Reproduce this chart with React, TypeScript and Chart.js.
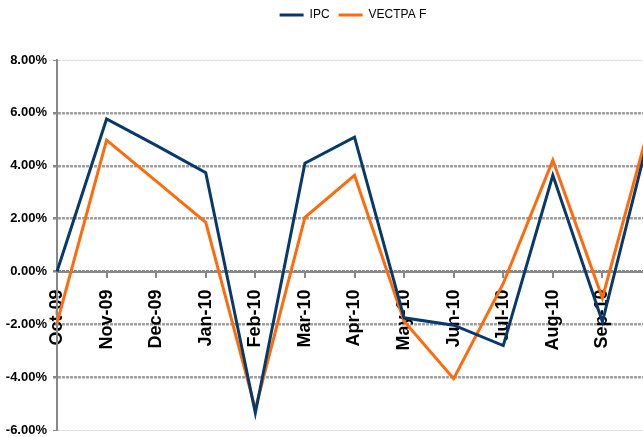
import React, { useEffect, useRef } from "react";
import { Chart, registerables } from "chart.js";

Chart.register(...registerables);

const categories = ["Oct-09", "Nov-09", "Dec-09", "Jan-10", "Feb-10", "Mar-10", "Apr-10", "May-10", "Jun-10", "Jul-10", "Aug-10", "Sep-10", "Oct-10"];
const ipcValues = [0.0, 5.77, 4.77, 3.74, -5.35, 4.1, 5.08, -1.75, -2.03, -2.8, 3.64, -1.9, 5.6];
const vectpaValues = [-1.95, 4.97, 3.42, 1.86, -5.2, 2.05, 3.64, -1.88, -4.05, -0.45, 4.21, -1.0, 5.9];
const yMin = -6;
const yMax = 8;
const yStep = 2;

const SANS = "'Liberation Sans', Arial, sans-serif";

const legendHeightPlugin = {
  id: "legendHeight",
  beforeInit(chart: any) {
    const legend = chart.legend;
    if (!legend) return;
    const origFit = legend.fit;
    legend.fit = function () {
      origFit.call(this);
      this.height = 60;
    };
  },
  beforeDraw(chart: any) {
    const legend = chart.legend;
    if (!legend || legend._shifted) return;
    legend.left += 27;
    legend.right += 27;
    legend._shifted = true;
  },
};

export default function App() {
  const ref = useRef<HTMLCanvasElement | null>(null);
  useEffect(() => {
    if (!ref.current) return;
    const chart = new Chart(ref.current, {
      type: "line",
      data: {
        labels: categories,
        datasets: [
          {
            label: "IPC",
            data: ipcValues,
            borderColor: "#063a6c",
            backgroundColor: "#063a6c",
            borderWidth: 3,
            pointRadius: 0,
            tension: 0,
          },
          {
            label: "VECTPA F",
            data: vectpaValues,
            borderColor: "#ff6a0a",
            backgroundColor: "#ff6a0a",
            borderWidth: 3,
            pointRadius: 0,
            tension: 0,
          },
        ],
      },
      options: {
        responsive: false,
        animation: false,
        layout: { padding: { left: 0, right: 48, top: 0, bottom: 0 } },
        plugins: {
          legend: {
            position: "top",
            labels: {
              usePointStyle: true,
              pointStyle: "line",
              pointStyleWidth: 24,
              padding: 9,
              color: "#000",
              font: { family: SANS, size: 12 },
            },
          },
          tooltip: { enabled: false },
        },
        scales: {
          x: {
            type: "category",
            position: { y: 0 },
            offset: false,
            grid: {
              drawOnChartArea: false,
              drawTicks: true,
              tickLength: 5,
              color: "#888",
              lineWidth: 2,
            },
            border: { display: true, color: "#888", width: 2 },
            ticks: {
              autoSkip: false,
              maxRotation: 90,
              minRotation: 90,
              padding: 13,
              color: "#000",
              font: { family: SANS, size: 18, weight: "bold" },
            },
            afterFit: (s: any) => {
              s.height = 0;
            },
          },
          y: {
            min: yMin,
            max: yMax,
            ticks: {
              stepSize: yStep,
              padding: 6,
              color: "#000",
              font: { family: SANS, size: 13, weight: "bold" },
              callback: (v: any) => Number(v).toFixed(2) + "%",
            },
            grid: {
              drawTicks: true,
              tickLength: 4,
              tickColor: "#888",
              color: (c: any) => {
                const v = c.tick ? c.tick.value : null;
                if (v === yMax || v === yMin) return "#d8d8d8";
                if (v === 0) return "#888";
                return "#a0a0a0";
              },
              lineWidth: (c: any) => {
                const v = c.tick ? c.tick.value : null;
                if (v === yMax || v === yMin) return 1;
                return 2.5;
              },
            },
            border: { display: true, color: "#888", width: 2, dash: [3, 1] },
            afterFit: (s: any) => {
              s.width = 57;
            },
          },
        },
      },
      plugins: [legendHeightPlugin],
    } as any);
    return () => chart.destroy();
  }, []);
  return (
    <div style={{ position: "fixed", left: 0, top: 0, width: 643, height: 437, overflow: "hidden", background: "#fff" }}>
      <canvas ref={ref} width={700} height={444} style={{ width: 700, height: 444, display: "block" }} />
    </div>
  );
}
